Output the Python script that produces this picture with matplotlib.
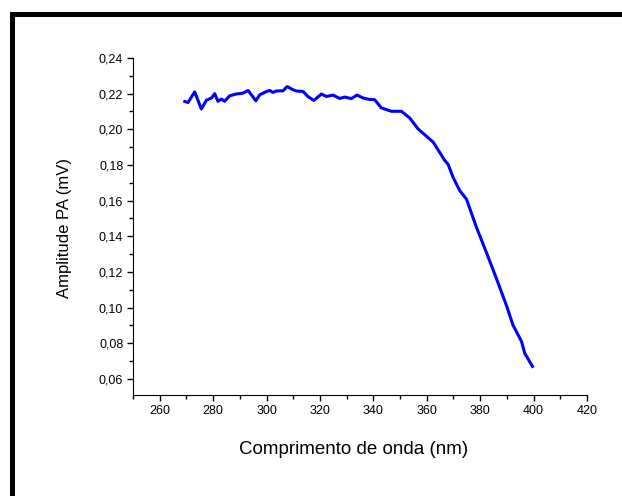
import matplotlib
matplotlib.use("Agg")
import matplotlib.pyplot as plt
from matplotlib.patches import Rectangle
from matplotlib.ticker import MultipleLocator

# wavelength (nm) and photoacoustic amplitude (mV)
wavelength = [269.4, 270.6, 273.1, 275.6, 277.5, 279.4, 280.6, 281.8, 283.1, 284.3,
              286.2, 288.7, 291.2, 293.1, 296.0, 297.5, 300.0, 301.2, 302.4, 303.7,
              306.2, 307.7, 309.9, 311.2, 313.7, 315.5, 317.7, 320.6, 322.4, 324.9,
              327.4, 329.3, 331.8, 333.9, 336.1, 338.3, 340.5, 343.0, 346.8, 350.5,
              353.6, 356.7, 359.9, 362.4, 364.9, 366.7, 368.0, 369.9, 372.4, 374.9,
              378.6, 382.4, 386.1, 389.8, 392.3, 395.5, 396.7, 399.6]
amplitude = [0.2156, 0.2150, 0.2210, 0.2114, 0.2163, 0.2176, 0.2200, 0.2157, 0.2170, 0.2157,
             0.2188, 0.2198, 0.2203, 0.2218, 0.2160, 0.2194, 0.2212, 0.2218, 0.2207, 0.2215,
             0.2216, 0.2240, 0.2222, 0.2215, 0.2212, 0.2184, 0.2162, 0.2198, 0.2184, 0.2192,
             0.2173, 0.2181, 0.2172, 0.2192, 0.2176, 0.2168, 0.2166, 0.2120, 0.2101, 0.2101,
             0.2064, 0.2003, 0.1961, 0.1928, 0.1869, 0.1826, 0.1804, 0.1729, 0.1655, 0.1608,
             0.1451, 0.1307, 0.1163, 0.1014, 0.0902, 0.0810, 0.0744, 0.0670]

xticks = [260, 280, 300, 320, 340, 360, 380, 400, 420]
yticks = [0.06, 0.08, 0.10, 0.12, 0.14, 0.16, 0.18, 0.20, 0.22, 0.24]
ytick_labels = ["0,06", "0,08", "0,10", "0,12", "0,14", "0,16", "0,18", "0,20", "0,22", "0,24"]

plt.rcParams['font.family'] = ['Liberation Sans', 'DejaVu Sans']

fig = plt.figure(figsize=(6.22, 4.96), dpi=100)
ax = fig.add_axes([0.2138, 0.2036, 0.7299, 0.6795])

ax.plot(wavelength, amplitude, color='#0000ff', linewidth=2.2)

ax.set_xlim(250, 420)
ax.set_ylim(0.051, 0.24)
ax.set_xticks(xticks)
ax.set_xticklabels([str(t) for t in xticks])
ax.set_yticks(yticks)
ax.set_yticklabels(ytick_labels)
ax.xaxis.set_minor_locator(MultipleLocator(10))
ax.yaxis.set_minor_locator(MultipleLocator(0.01))

ax.spines['top'].set_visible(False)
ax.spines['right'].set_visible(False)
ax.tick_params(which='major', direction='out', length=4, width=1, labelsize=9, pad=3)
ax.tick_params(which='minor', direction='out', length=3, width=1)

ax.set_xlabel('Comprimento de onda (nm)', fontsize=13.5)
ax.xaxis.set_label_coords(0.485, -0.135)
ax.set_ylabel('Amplitude PA (mV)', fontsize=12)
ax.yaxis.set_label_coords(-0.135, 0.495)

# black frame (only top and left edges visible in the picture)
fig.add_artist(Rectangle((10 / 622, 1 - 17 / 496), 1.0, 5 / 496,
                         transform=fig.transFigure, facecolor='black', edgecolor='none'))
fig.add_artist(Rectangle((10 / 622, 0.0), 5 / 622, 1 - 12 / 496,
                         transform=fig.transFigure, facecolor='black', edgecolor='none'))

fig.savefig('out.png', dpi=100)
